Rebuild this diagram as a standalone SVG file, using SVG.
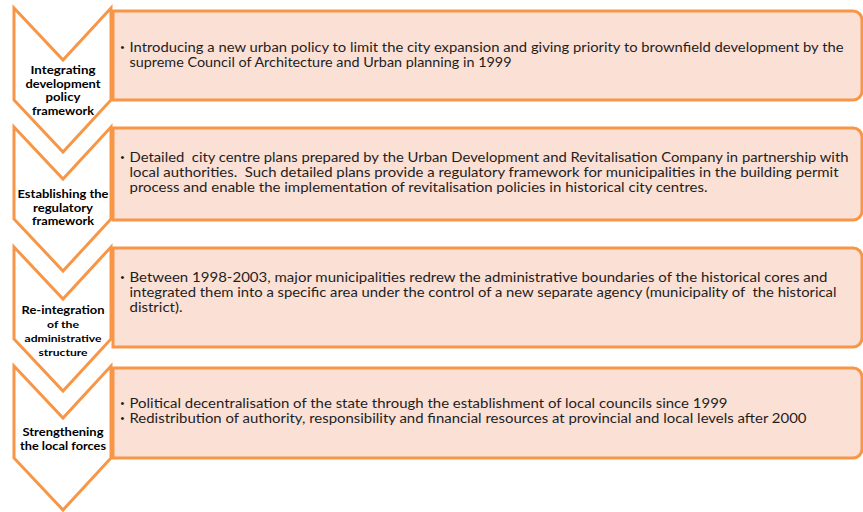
<svg xmlns="http://www.w3.org/2000/svg" width="863" height="512" viewBox="0 0 863 512">
<style>
.chev{fill:#ffffff;stroke:#F79646;stroke-width:3;stroke-linejoin:miter}
.box{fill:#FBE0D5;stroke:#F79646;stroke-width:3}
.lbl{font-family:Lato,"Open Sans","Liberation Sans",sans-serif;font-weight:bold;font-size:12px;fill:#000;text-anchor:middle}
.lbs{font-family:Lato,"Open Sans","Liberation Sans",sans-serif;font-weight:bold;font-size:10px;fill:#000;text-anchor:middle}
.txt{font-family:Lato,"Open Sans","Liberation Sans",sans-serif;font-size:13.6px;fill:#1e1e1e;white-space:pre}
.bul{font-family:"Liberation Sans",sans-serif;font-size:11px;fill:#1e1e1e}
</style>
<rect width="863" height="512" fill="#ffffff"/>
<g id="step1">
<polygon class="chev" points="14,8 63,60 111,8 111,100 63,152 14,100"/>
<path class="box" d="M113,11 H853 A9,9 0 0 1 862,20 V91 A9,9 0 0 1 853,100 H113 Z"/>
<text class="lbl" x="63" y="74" textLength="65" lengthAdjust="spacingAndGlyphs">Integrating</text>
<text class="lbl" x="63" y="87.5" textLength="75" lengthAdjust="spacingAndGlyphs">development</text>
<text class="lbl" x="63" y="101" textLength="35" lengthAdjust="spacingAndGlyphs">policy</text>
<text class="lbl" x="63" y="115" textLength="62" lengthAdjust="spacingAndGlyphs">framework</text>
<text class="bul" x="120.5" y="51">•</text>
<text class="txt" x="129.5" y="52" textLength="714" lengthAdjust="spacingAndGlyphs">Introducing a new urban policy to limit the city expansion and giving priority to brownfield development by the</text>
<text class="txt" x="129.5" y="67" textLength="382" lengthAdjust="spacingAndGlyphs">supreme Council of Architecture and Urban planning in 1999</text>
</g>
<g id="step2">
<polygon class="chev" points="14,127 63,179 111,127 111,219 63,271 14,219"/>
<path class="box" d="M113,128 H853 A9,9 0 0 1 862,137 V211 A9,9 0 0 1 853,220 H113 Z"/>
<text class="lbl" x="63" y="198" textLength="91" lengthAdjust="spacingAndGlyphs">Establishing the</text>
<text class="lbl" x="63" y="211.5" textLength="60" lengthAdjust="spacingAndGlyphs">regulatory</text>
<text class="lbl" x="63" y="225" textLength="62" lengthAdjust="spacingAndGlyphs">framework</text>
<text class="bul" x="120.5" y="161">•</text>
<text class="txt" x="129.5" y="162" textLength="719" lengthAdjust="spacingAndGlyphs">Detailed  city centre plans prepared by the Urban Development and Revitalisation Company in partnership with</text>
<text class="txt" x="129.5" y="177" textLength="709" lengthAdjust="spacingAndGlyphs">local authorities.  Such detailed plans provide a regulatory framework for municipalities in the building permit</text>
<text class="txt" x="129.5" y="191.5" textLength="578" lengthAdjust="spacingAndGlyphs">process and enable the implementation of revitalisation policies in historical city centres.</text>
</g>
<g id="step3">
<polygon class="chev" points="14,247 63,299 111,247 111,339 63,391 14,339"/>
<path class="box" d="M113,248 H853 A9,9 0 0 1 862,257 V338 A9,9 0 0 1 853,347 H113 Z"/>
<text class="lbl" x="63" y="314" textLength="83" lengthAdjust="spacingAndGlyphs">Re-integration</text>
<text class="lbs" x="63" y="327.5" textLength="32" lengthAdjust="spacingAndGlyphs">of the</text>
<text class="lbs" x="63" y="342" textLength="77" lengthAdjust="spacingAndGlyphs">administrative</text>
<text class="lbs" x="63" y="356" textLength="49" lengthAdjust="spacingAndGlyphs">structure</text>
<text class="bul" x="120.5" y="281">•</text>
<text class="txt" x="129.5" y="282" textLength="698" lengthAdjust="spacingAndGlyphs">Between 1998-2003, major municipalities redrew the administrative boundaries of the historical cores and</text>
<text class="txt" x="129.5" y="297" textLength="707" lengthAdjust="spacingAndGlyphs">integrated them into a specific area under the control of a new separate agency (municipality of  the historical</text>
<text class="txt" x="129.5" y="311.5" textLength="53" lengthAdjust="spacingAndGlyphs">district).</text>
</g>
<g id="step4">
<polygon class="chev" points="14,366 63,418 111,366 111,458 63,510 14,458"/>
<path class="box" d="M113,368 H853 A9,9 0 0 1 862,377 V449 A9,9 0 0 1 853,458 H113 Z"/>
<text class="lbl" x="63" y="436" textLength="81" lengthAdjust="spacingAndGlyphs">Strengthening</text>
<text class="lbl" x="63" y="450" textLength="86" lengthAdjust="spacingAndGlyphs">the local forces</text>
<text class="bul" x="120.5" y="407">•</text>
<text class="txt" x="129.5" y="408" textLength="598" lengthAdjust="spacingAndGlyphs">Political decentralisation of the state through the establishment of local councils since 1999</text>
<text class="bul" x="120.5" y="422">•</text>
<text class="txt" x="129.5" y="423" textLength="677" lengthAdjust="spacingAndGlyphs">Redistribution of authority, responsibility and financial resources at provincial and local levels after 2000</text>
</g>
<g id="connectors"></g>
</svg>
